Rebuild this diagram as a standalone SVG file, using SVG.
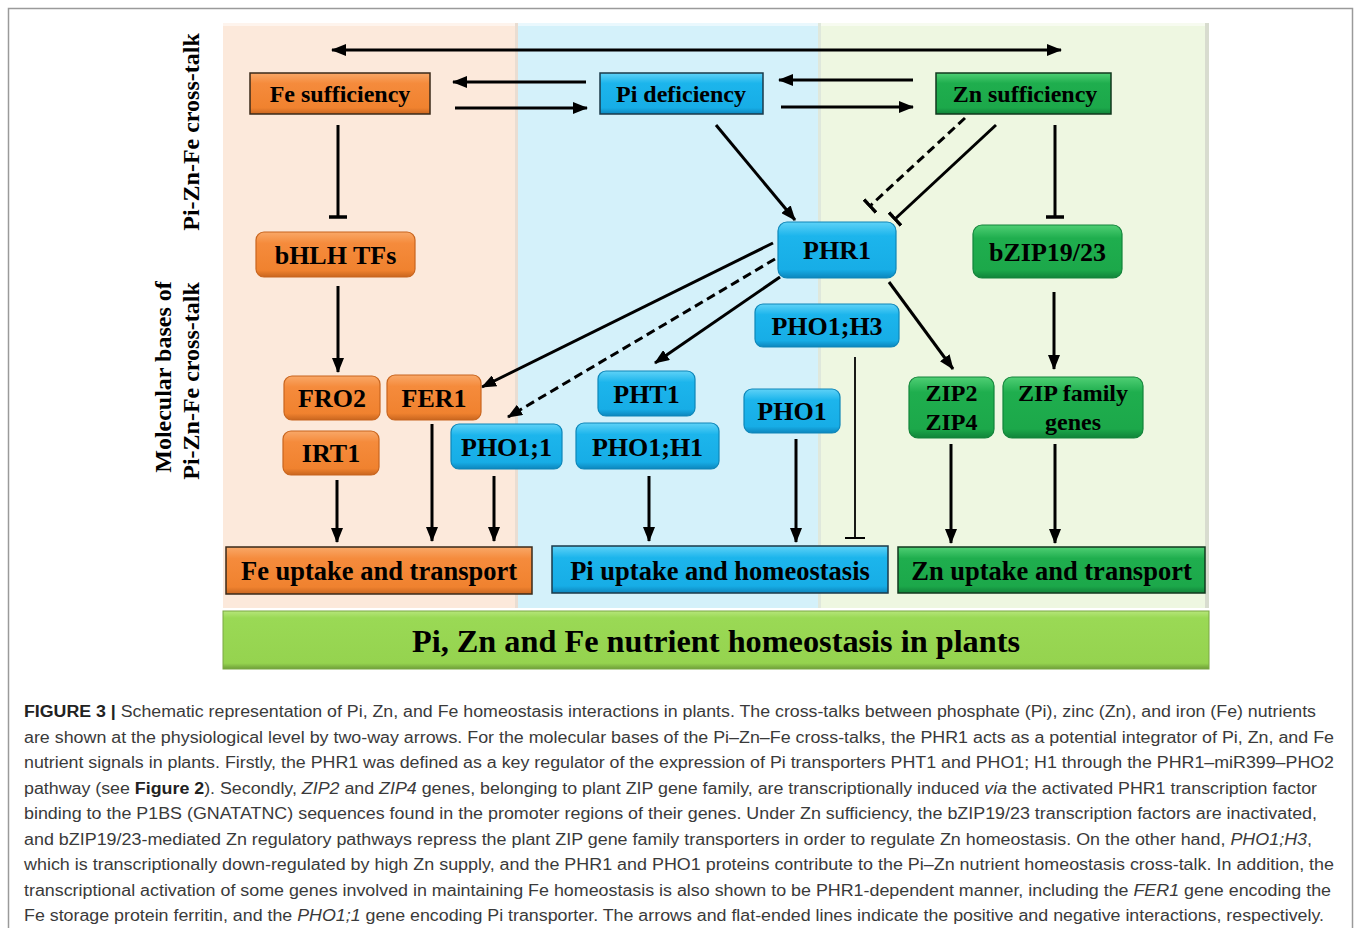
<svg xmlns="http://www.w3.org/2000/svg" width="1355" height="928" viewBox="0 0 1355 928">
<style>
.lbl{font-family:"Liberation Serif","Times New Roman",serif;font-weight:bold;fill:#000;text-anchor:middle}
.cap{font-family:"Liberation Sans",Arial,sans-serif;font-size:16px;fill:#3a3a3a}
.c{fill:none;stroke:#000;stroke-width:3}
.d{stroke-dasharray:9 5}
.ar{marker-end:url(#ah)}
.tb{marker-end:url(#tbar)}
.bo{stroke:#3a2a1a;stroke-width:1.5}
.ro{stroke:#c8651e;stroke-width:1.2}
.bb{stroke:#1a3a4a;stroke-width:1.5}
.rb{stroke:#0e86b8;stroke-width:1.2}
.bg{stroke:#12381e;stroke-width:1.5}
.rg{stroke:#12843a;stroke-width:1.2}
</style>
<defs>
<linearGradient id="gO" x1="0" y1="0" x2="0" y2="1"><stop offset="0" stop-color="#f9a868"/><stop offset="0.25" stop-color="#f58b3c"/><stop offset="0.85" stop-color="#f0822f"/><stop offset="1" stop-color="#c9661f"/></linearGradient>
<linearGradient id="gB" x1="0" y1="0" x2="0" y2="1"><stop offset="0" stop-color="#5fd2f7"/><stop offset="0.25" stop-color="#1cb5ec"/><stop offset="0.85" stop-color="#17ade6"/><stop offset="1" stop-color="#0c86bd"/></linearGradient>
<linearGradient id="gG" x1="0" y1="0" x2="0" y2="1"><stop offset="0" stop-color="#4fcf74"/><stop offset="0.25" stop-color="#1fae4e"/><stop offset="0.85" stop-color="#1ca84a"/><stop offset="1" stop-color="#11843a"/></linearGradient>
<linearGradient id="gL" x1="0" y1="0" x2="0" y2="1"><stop offset="0" stop-color="#b6e67a"/><stop offset="0.12" stop-color="#9ad955"/><stop offset="0.9" stop-color="#95d34f"/><stop offset="1" stop-color="#6e9e38"/></linearGradient>
<marker id="ah" markerWidth="15" markerHeight="12" refX="14" refY="6" orient="auto" markerUnits="userSpaceOnUse"><path d="M0,0 L15,6 L0,12 Z" fill="#000"/></marker>
<marker id="ahs" markerWidth="15" markerHeight="12" refX="14" refY="6" orient="auto-start-reverse" markerUnits="userSpaceOnUse"><path d="M0,0 L15,6 L0,12 Z" fill="#000"/></marker>
<marker id="tbar" markerWidth="4" markerHeight="18" refX="2" refY="9" orient="auto" markerUnits="userSpaceOnUse"><line x1="2" y1="0" x2="2" y2="18" stroke="#000" stroke-width="3.5"/></marker>
<marker id="tbt" markerWidth="4" markerHeight="20" refX="2" refY="10" orient="auto" markerUnits="userSpaceOnUse"><line x1="2" y1="0" x2="2" y2="20" stroke="#000" stroke-width="2"/></marker>
</defs>
<rect x="0" y="0" width="1355" height="928" fill="#fff"/>
<rect x="8.5" y="8.5" width="1344" height="940" fill="none" stroke="#9a9a9a" stroke-width="1.5"/>

<g id="panels">
<rect x="223" y="23" width="293" height="585" fill="#fce9db"/>
<rect x="516" y="23" width="304" height="585" fill="#d4f1fa"/>
<rect x="820" y="23" width="389" height="585" fill="#eef7e1"/>
<rect x="223" y="23" width="986" height="3" fill="#ffffff" opacity="0.5"/>
<rect x="1205" y="23" width="4" height="585" fill="#d8dccf"/>
<rect x="515" y="23" width="3" height="585" fill="#e9ddd2"/>
<rect x="818" y="23" width="3" height="585" fill="#dfe8dc"/>
</g>

<g id="side-labels">
<text class="lbl" font-size="24" transform="translate(199,132) rotate(-90)">Pi-Zn-Fe cross-talk</text>
<text class="lbl" font-size="24" transform="translate(171,377) rotate(-90)">Molecular bases of</text>
<text class="lbl" font-size="24" transform="translate(199,381) rotate(-90)">Pi-Zn-Fe cross-talk</text>
</g>

<g id="connectors">
<path class="c" d="M332,50 H1061" marker-start="url(#ahs)" marker-end="url(#ahs)"/>
<path class="c ar" d="M586,82 H453"/>
<path class="c ar" d="M455,108 H587"/>
<path class="c ar" d="M913,80 H779"/>
<path class="c ar" d="M781,107 H913"/>
<path class="c tb" d="M338,125 V217"/>
<path class="c ar" d="M338,286 V372"/>
<path class="c ar" d="M337,480 V542"/>
<path class="c ar" d="M432,424 V541"/>
<path class="c ar" d="M494,476 V541"/>
<path class="c ar" d="M716,125 L795,220"/>
<path class="c tb" d="M996,125 L895,219"/>
<path class="c d tb" d="M965,118 L870,206"/>
<path class="c ar" d="M773,243 L482,387"/>
<path class="c d ar" d="M775,259 L508,417"/>
<path class="c ar" d="M780,277 L655,363"/>
<path class="c ar" d="M889,282 L953,369"/>
<path class="c ar" d="M649,476 V541"/>
<path class="c ar" d="M796,439 V542"/>
<path fill="none" stroke="#000" stroke-width="1.8" marker-end="url(#tbt)" d="M855,357 V538"/>
<path class="c tb" d="M1055,125 V217"/>
<path class="c ar" d="M1054,292 V369"/>
<path class="c ar" d="M951,444 V543"/>
<path class="c ar" d="M1055,444 V543"/>
</g>

<g id="fe-sufficiency"><rect class="bo" x="250" y="73" width="180" height="41" fill="url(#gO)"/><text class="lbl" font-size="24" x="340" y="102">Fe sufficiency</text></g>
<g id="pi-deficiency"><rect class="bb" x="600" y="73" width="163" height="41" fill="url(#gB)"/><text class="lbl" font-size="24" x="681" y="102">Pi deficiency</text></g>
<g id="zn-sufficiency"><rect class="bg" x="936" y="73" width="175" height="41" fill="url(#gG)"/><text class="lbl" font-size="24" x="1025" y="102">Zn sufficiency</text></g>

<g id="bhlh"><rect class="ro" x="256" y="232" width="159" height="45" rx="8" fill="url(#gO)"/><text class="lbl" font-size="26" x="335.5" y="264">bHLH TFs</text></g>
<g id="fro2"><rect class="ro" x="284" y="376" width="96" height="44" rx="8" fill="url(#gO)"/><text class="lbl" font-size="26" x="332" y="407">FRO2</text></g>
<g id="fer1"><rect class="ro" x="387" y="375" width="94" height="45" rx="8" fill="url(#gO)"/><text class="lbl" font-size="26" x="434" y="407">FER1</text></g>
<g id="irt1"><rect class="ro" x="283" y="431" width="96" height="44" rx="8" fill="url(#gO)"/><text class="lbl" font-size="26" x="331" y="462">IRT1</text></g>

<g id="phr1"><rect class="rb" x="778" y="222" width="118" height="56" rx="9" fill="url(#gB)"/><text class="lbl" font-size="26" x="837" y="259">PHR1</text></g>
<g id="pho1-h3"><rect class="rb" x="755" y="304" width="144" height="43" rx="8" fill="url(#gB)"/><text class="lbl" font-size="26" x="827" y="335">PHO1;H3</text></g>
<g id="pht1"><rect class="rb" x="598" y="371" width="97" height="45" rx="8" fill="url(#gB)"/><text class="lbl" font-size="26" x="646.5" y="403">PHT1</text></g>
<g id="pho1-1"><rect class="rb" x="451" y="424" width="111" height="45" rx="8" fill="url(#gB)"/><text class="lbl" font-size="26" x="506.5" y="456">PHO1;1</text></g>
<g id="pho1-h1"><rect class="rb" x="576" y="423" width="143" height="46" rx="8" fill="url(#gB)"/><text class="lbl" font-size="26" x="647.5" y="456">PHO1;H1</text></g>
<g id="pho1"><rect class="rb" x="744" y="389" width="96" height="44" rx="8" fill="url(#gB)"/><text class="lbl" font-size="26" x="792" y="420">PHO1</text></g>

<g id="bzip"><rect class="rg" x="973" y="225" width="149" height="53" rx="9" fill="url(#gG)"/><text class="lbl" font-size="26" x="1047.5" y="261">bZIP19/23</text></g>
<g id="zip24"><rect class="rg" x="909" y="377" width="85" height="61" rx="9" fill="url(#gG)"/><text class="lbl" font-size="24" x="951.5" y="401">ZIP2</text><text class="lbl" font-size="24" x="951.5" y="430">ZIP4</text></g>
<g id="zip-family"><rect class="rg" x="1003" y="377" width="140" height="61" rx="9" fill="url(#gG)"/><text class="lbl" font-size="24" x="1073" y="401">ZIP family</text><text class="lbl" font-size="24" x="1073" y="430">genes</text></g>

<g id="fe-uptake"><rect class="bo" x="226" y="547" width="306" height="47" fill="url(#gO)"/><text class="lbl" font-size="26.5" x="379" y="580">Fe uptake and transport</text></g>
<g id="pi-uptake"><rect class="bb" x="552" y="546" width="336" height="47" fill="url(#gB)"/><text class="lbl" font-size="26.5" x="720" y="580">Pi uptake and homeostasis</text></g>
<g id="zn-uptake"><rect class="bg" x="898" y="547" width="307" height="46" fill="url(#gG)"/><text class="lbl" font-size="26.5" x="1051.5" y="580">Zn uptake and transport</text></g>

<g id="homeostasis"><rect x="223" y="611" width="986" height="58" fill="url(#gL)" stroke="#7aa844" stroke-width="1"/><text class="lbl" font-size="32" x="716" y="652" textLength="608" lengthAdjust="spacingAndGlyphs">Pi, Zn and Fe nutrient homeostasis in plants</text></g>

<g id="caption">
<text class="cap" x="24" y="717" textLength="1292" lengthAdjust="spacingAndGlyphs"><tspan font-weight="bold" fill="#222">FIGURE 3 |</tspan> Schematic representation of Pi, Zn, and Fe homeostasis interactions in plants. The cross-talks between phosphate (Pi), zinc (Zn), and iron (Fe) nutrients</text>
<text class="cap" x="24" y="742.5" textLength="1310" lengthAdjust="spacingAndGlyphs">are shown at the physiological level by two-way arrows. For the molecular bases of the Pi–Zn–Fe cross-talks, the PHR1 acts as a potential integrator of Pi, Zn, and Fe</text>
<text class="cap" x="24" y="768" textLength="1310" lengthAdjust="spacingAndGlyphs">nutrient signals in plants. Firstly, the PHR1 was defined as a key regulator of the expression of Pi transporters PHT1 and PHO1; H1 through the PHR1–miR399–PHO2</text>
<text class="cap" x="24" y="793.5" textLength="1293" lengthAdjust="spacingAndGlyphs">pathway (see <tspan font-weight="bold" fill="#222">Figure 2</tspan>). Secondly, <tspan font-style="italic">ZIP2</tspan> and <tspan font-style="italic">ZIP4</tspan> genes, belonging to plant ZIP gene family, are transcriptionally induced <tspan font-style="italic">via</tspan> the activated PHR1 transcription factor</text>
<text class="cap" x="24" y="819" textLength="1293" lengthAdjust="spacingAndGlyphs">binding to the P1BS (GNATATNC) sequences found in the promoter regions of their genes. Under Zn sufficiency, the bZIP19/23 transcription factors are inactivated,</text>
<text class="cap" x="24" y="844.5" textLength="1288" lengthAdjust="spacingAndGlyphs">and bZIP19/23-mediated Zn regulatory pathways repress the plant ZIP gene family transporters in order to regulate Zn homeostasis. On the other hand, <tspan font-style="italic">PHO1;H3</tspan>,</text>
<text class="cap" x="24" y="870" textLength="1310" lengthAdjust="spacingAndGlyphs">which is transcriptionally down-regulated by high Zn supply, and the PHR1 and PHO1 proteins contribute to the Pi–Zn nutrient homeostasis cross-talk. In addition, the</text>
<text class="cap" x="24" y="895.5" textLength="1307" lengthAdjust="spacingAndGlyphs">transcriptional activation of some genes involved in maintaining Fe homeostasis is also shown to be PHR1-dependent manner, including the <tspan font-style="italic">FER1</tspan> gene encoding the</text>
<text class="cap" x="24" y="921" textLength="1300" lengthAdjust="spacingAndGlyphs">Fe storage protein ferritin, and the <tspan font-style="italic">PHO1;1</tspan> gene encoding Pi transporter. The arrows and flat-ended lines indicate the positive and negative interactions, respectively.</text>
</g>
</svg>
